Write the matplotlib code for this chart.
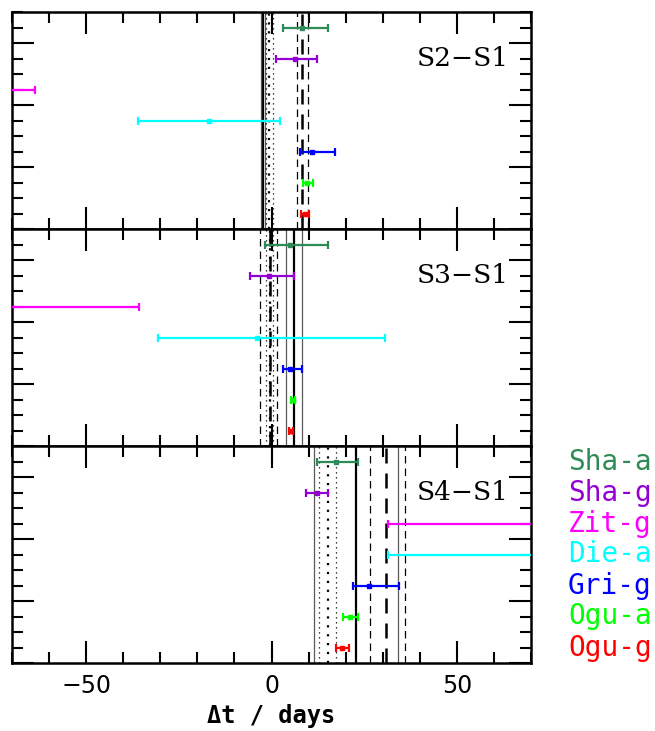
import matplotlib
matplotlib.use('Agg')
import matplotlib.pyplot as plt
from matplotlib.ticker import MultipleLocator

# series names and colours (top to bottom)
names = ['Sha-a', 'Sha-g', 'Zit-g', 'Die-a', 'Gri-g', 'Ogu-a', 'Ogu-g']
colors = ['#2E8B57', '#9400D3', '#FF00FF', '#00FFFF', '#0000FF', '#00FF00', '#FF0000']
rows = [6.5, 5.5, 4.5, 3.5, 2.5, 1.5, 0.5]

panels = ['S2\u2212S1', 'S3\u2212S1', 'S4\u2212S1']

# per panel: low, centre, high of each delay (days)
s21_lo = [3.0, 1.2, -90.0, -36.0, 7.8, 8.4, 8.0]
s21_mid = [8.3, 6.3, -78.0, -16.9, 10.9, 9.7, 9.0]
s21_hi = [15.3, 12.4, -63.8, 2.2, 17.2, 11.1, 10.0]

s31_lo = [-1.8, -5.7, -90.0, -30.7, 3.2, 5.3, 4.8]
s31_mid = [5.1, -0.6, -78.0, -3.9, 5.1, 5.8, 5.3]
s31_hi = [15.3, 6.2, -35.8, 30.7, 8.3, 6.3, 5.8]

s41_lo = [12.3, 9.2, 31.3, 31.3, 21.9, 19.2, 17.4]
s41_mid = [17.3, 12.3, 80.0, 80.0, 26.2, 21.1, 19.1]
s41_hi = [23.3, 15.3, 95.0, 95.0, 34.4, 23.3, 20.9]

# combined estimates: (centre, low, high)
solid = [(-2.2, -2.8, -1.8), (6.0, 3.8, 8.1), (22.9, 11.4, 34.2)]
dotted = [(-0.7, -1.35, 0.3), (-0.4, -1.6, 0.3), (15.2, 12.7, 17.5)]
dashed = [(8.3, 6.9, 9.8), (-0.5, -3.0, 1.6), (31.0, 26.7, 35.9)]

data = [(s21_lo, s21_mid, s21_hi), (s31_lo, s31_mid, s31_hi), (s41_lo, s41_mid, s41_hi)]

fig = plt.figure(figsize=(6.55, 7.31), dpi=100)
axes = []
top = 1 - 12 / 731
bottom = 1 - 663 / 731
h = (top - bottom) / 3
left = 12 / 655
width = (531 - 12) / 655
for k in range(3):
    ax = fig.add_axes([left, top - (k + 1) * h, width, h])
    axes.append(ax)

for k, ax in enumerate(axes):
    lo, mid, hi = data[k]
    # vertical lines
    c, l, u = solid[k]
    ax.axvline(c, color='black', lw=1.6, zorder=1)
    ax.axvline(l, color='0.35', lw=0.9, zorder=1)
    ax.axvline(u, color='0.35', lw=0.9, zorder=1)
    c, l, u = dotted[k]
    ax.axvline(c, color='black', lw=1.6, ls=(0, (1, 3)), zorder=1)
    ax.axvline(l, color='black', lw=0.9, ls=(0, (1, 3)), zorder=1)
    ax.axvline(u, color='black', lw=0.9, ls=(0, (1, 3)), zorder=1)
    c, l, u = dashed[k]
    ax.axvline(c, color='black', lw=1.8, ls=(0, (6, 4)), zorder=1)
    ax.axvline(l, color='black', lw=0.9, ls=(0, (6, 4)), zorder=1)
    ax.axvline(u, color='black', lw=0.9, ls=(0, (6, 4)), zorder=1)

    for i in range(len(names)):
        ax.errorbar(mid[i], rows[i], xerr=[[mid[i] - lo[i]], [hi[i] - mid[i]]],
                    fmt='s', ms=3, color=colors[i], ecolor=colors[i],
                    elinewidth=1.6, capsize=3, capthick=1.6, zorder=3)

    ax.set_xlim(-70, 70)
    ax.set_ylim(0, 7)
    ax.xaxis.set_major_locator(MultipleLocator(50))
    ax.xaxis.set_minor_locator(MultipleLocator(10))
    ax.yaxis.set_major_locator(MultipleLocator(2))
    ax.yaxis.set_minor_locator(MultipleLocator(0.5))
    ax.tick_params(which='both', direction='in', top=True, right=True, width=1.5)
    ax.tick_params(which='major', length=16)
    ax.tick_params(which='minor', length=8)
    ax.set_yticklabels([])
    for sp in ax.spines.values():
        sp.set_linewidth(1.8)
    ax.text(63.9, 5.5, panels[k], family='DejaVu Serif', fontsize=19,
            ha='right', va='center')
    if k < 2:
        ax.set_xticklabels([])

ax3 = axes[2]
ax3.tick_params(axis='x', labelsize=17, pad=8)
ax3.set_xlabel('\u0394t / days', family='DejaVu Sans Mono', fontsize=17,
               fontweight='bold', labelpad=4)
for i in range(len(names)):
    ax3.text(80, rows[i], names[i], color=colors[i], family='DejaVu Sans Mono',
             fontsize=20, va='center', ha='left', clip_on=False)

fig.savefig('out.png', dpi=100)
